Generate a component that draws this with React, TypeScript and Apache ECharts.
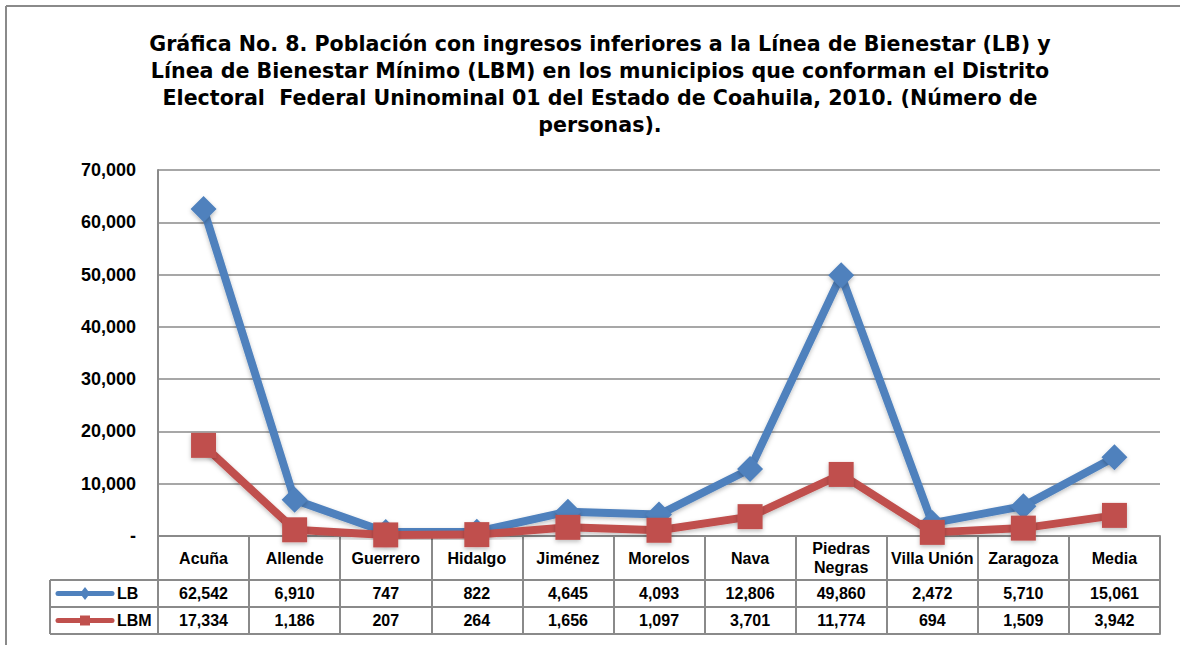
import React, { useEffect, useRef } from "react";
import * as echarts from "echarts";

const categories = ["Acuña", "Allende", "Guerrero", "Hidalgo", "Jiménez", "Morelos", "Nava", "Piedras\nNegras", "Villa Unión", "Zaragoza", "Media"];
const lbValues = [62542, 6910, 747, 822, 4645, 4093, 12806, 49860, 2472, 5710, 15061];
const lbmValues = [17334, 1186, 207, 264, 1656, 1097, 3701, 11774, 694, 1509, 3942];
const yTicks = { min: 0, max: 70000, interval: 10000 };
const titleText = "Gráfica No. 8. Población con ingresos inferiores a la Línea de Bienestar (LB) y\nLínea de Bienestar Mínimo (LBM) en los municipios que conforman el Distrito\nElectoral  Federal Uninominal 01 del Estado de Coahuila, 2010. (Número de\npersonas).";

const FONT = "'Liberation Sans', Arial, sans-serif";
const TITLE_FONT = "'DejaVu Sans', 'Liberation Sans', sans-serif";
const GRAY = "#8a8a8a";
const BLUE = "#4F81BD";
const RED = "#C0504D";

const fmt = (v: number) => v.toLocaleString("en-US");

export default function App() {
  const ref = useRef<HTMLDivElement>(null);
  useEffect(() => {
    if (!ref.current) return;
    const chart = echarts.init(ref.current, null, { renderer: "svg" });
    const gridLeft = 158, gridTop = 170, gridW = 1002, gridH = 366;
    const axisBottom = gridTop + gridH;
    const tableLeft = 50;
    const row1 = 44, row2 = 27, row3 = 27;
    const lineStyle = { color: GRAY, width: 2 };
    const labelStyle = { fontFamily: FONT, fontWeight: "bold" as const, fontSize: 16, color: "#000" };
    chart.setOption({
      animation: false,
      backgroundColor: "#fff",
      grid: { left: gridLeft, top: gridTop, width: gridW, height: gridH, containLabel: false },
      xAxis: [
        {
          type: "category", data: categories, position: "bottom", boundaryGap: true,
          axisLine: { show: true, lineStyle },
          axisTick: { show: true, interval: 0, length: row1, lineStyle },
          axisLabel: { ...labelStyle, interval: 0, verticalAlign: "middle", margin: row1 / 2, lineHeight: 19 },
        },
        {
          type: "category", data: lbValues.map(fmt), position: "bottom", offset: row1, boundaryGap: true,
          axisLine: { show: true, lineStyle },
          axisTick: { show: true, interval: 0, length: row2, lineStyle },
          axisLabel: { ...labelStyle, interval: 0, verticalAlign: "middle", margin: row2 / 2 },
        },
        {
          type: "category", data: lbmValues.map(fmt), position: "bottom", offset: row1 + row2, boundaryGap: true,
          axisLine: { show: true, lineStyle },
          axisTick: { show: true, interval: 0, length: row3, lineStyle },
          axisLabel: { ...labelStyle, interval: 0, verticalAlign: "middle", margin: row3 / 2 },
        },
        {
          type: "category", data: categories, position: "bottom", offset: row1 + row2 + row3, boundaryGap: true,
          axisLine: { show: true, lineStyle },
          axisTick: { show: false },
          axisLabel: { show: false },
        },
      ],
      yAxis: {
        type: "value", min: yTicks.min, max: yTicks.max, interval: yTicks.interval,
        axisLine: { show: true, lineStyle },
        axisTick: { show: false },
        splitLine: { show: true, lineStyle: { color: GRAY, width: 1.5 } },
        axisLabel: {
          fontFamily: FONT, fontWeight: "bold", fontSize: 18, color: "#000", margin: 22,
          formatter: (v: number) => (v === 0 ? "-" : fmt(v)),
        },
      },
      series: [
        {
          name: "LB", type: "line", data: lbValues, xAxisIndex: 0,
          symbol: "diamond", symbolSize: 26,
          lineStyle: { color: BLUE, width: 8, shadowBlur: 4, shadowColor: "rgba(0,0,0,0.25)", shadowOffsetY: 2 },
          itemStyle: { color: BLUE, shadowBlur: 4, shadowColor: "rgba(0,0,0,0.25)", shadowOffsetY: 2 },
          z: 3,
        },
        {
          name: "LBM", type: "line", data: lbmValues, xAxisIndex: 0,
          symbol: "rect", symbolSize: 25,
          lineStyle: { color: RED, width: 8, shadowBlur: 4, shadowColor: "rgba(0,0,0,0.25)", shadowOffsetY: 2 },
          itemStyle: { color: RED, shadowBlur: 4, shadowColor: "rgba(0,0,0,0.25)", shadowOffsetY: 2 },
          z: 4,
        },
      ],
      graphic: [
        { type: "line", shape: { x1: 6, y1: 6, x2: 1180, y2: 6 }, style: { stroke: GRAY, lineWidth: 2 } },
        { type: "line", shape: { x1: 6, y1: 6, x2: 6, y2: 645 }, style: { stroke: GRAY, lineWidth: 2 } },
        {
          type: "text", x: 600, y: 30,
          style: { text: titleText, fontFamily: TITLE_FONT, fontWeight: "bold", fontSize: 20.6, lineHeight: 27, fill: "#000", align: "center", verticalAlign: "top" },
        },
        // legend column of the data table
        { type: "line", shape: { x1: tableLeft, y1: axisBottom + row1, x2: gridLeft, y2: axisBottom + row1 }, style: { stroke: GRAY, lineWidth: 2 } },
        { type: "line", shape: { x1: tableLeft, y1: axisBottom + row1 + row2, x2: gridLeft, y2: axisBottom + row1 + row2 }, style: { stroke: GRAY, lineWidth: 2 } },
        { type: "line", shape: { x1: tableLeft, y1: axisBottom + row1 + row2 + row3, x2: gridLeft, y2: axisBottom + row1 + row2 + row3 }, style: { stroke: GRAY, lineWidth: 2 } },
        { type: "line", shape: { x1: tableLeft, y1: axisBottom + row1, x2: tableLeft, y2: axisBottom + row1 + row2 + row3 }, style: { stroke: GRAY, lineWidth: 2 } },
        { type: "line", shape: { x1: 58, y1: axisBottom + row1 + row2 / 2, x2: 112, y2: axisBottom + row1 + row2 / 2 }, style: { stroke: BLUE, lineWidth: 5, lineCap: "round" } },
        { type: "polygon", shape: { points: [[85, 587], [90, 593.5], [85, 600], [80, 593.5]] }, style: { fill: BLUE } },
        { type: "text", x: 117, y: axisBottom + row1 + row2 / 2, style: { text: "LB", fontFamily: FONT, fontWeight: "bold", fontSize: 16, fill: "#000", verticalAlign: "middle" } },
        { type: "line", shape: { x1: 58, y1: axisBottom + row1 + row2 + row3 / 2, x2: 112, y2: axisBottom + row1 + row2 + row3 / 2 }, style: { stroke: RED, lineWidth: 5, lineCap: "round" } },
        { type: "rect", shape: { x: 80, y: 615.5, width: 10, height: 10 }, style: { fill: RED } },
        { type: "text", x: 117, y: axisBottom + row1 + row2 + row3 / 2, style: { text: "LBM", fontFamily: FONT, fontWeight: "bold", fontSize: 16, fill: "#000", verticalAlign: "middle" } },
      ],
    });
    return () => chart.dispose();
  }, []);
  return <div ref={ref} style={{ width: 1180, height: 645, position: "absolute", left: 0, top: 0 }} />;
}
